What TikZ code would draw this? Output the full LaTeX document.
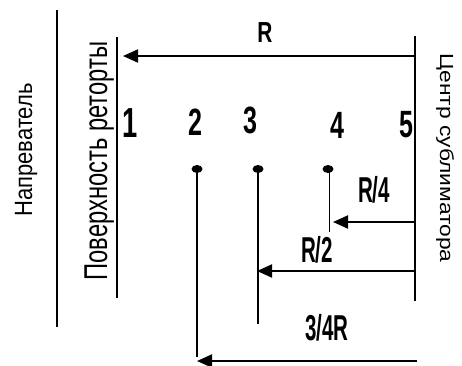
\documentclass[tikz,border=0pt]{standalone}
\usepackage{fontspec}
\setmainfont{Liberation Sans}
\usetikzlibrary{arrows.meta,shapes.geometric}
\begin{document}
\begin{tikzpicture}[x=1pt,y=-1pt,
  wall/.style={line width=1.3pt},
  arr/.style={line width=2pt,-{Triangle[length=15pt,width=13pt]}},
  stem/.style={line width=1.3pt},
  dotnode/.style={ellipse,fill=black,inner sep=0pt,minimum width=11pt,minimum height=8pt},
  num/.style={anchor=base,inner sep=0pt,font=\fontsize{38}{38}\selectfont\bfseries},
  lab/.style={anchor=base,inner sep=0pt,font=\fontsize{36}{36}\selectfont\bfseries},
  vtext/.style={anchor=base,inner sep=0pt}]
\useasboundingbox (0,0) rectangle (462,365);
% walls
\coordinate (h1) at (57,10); \coordinate (h2) at (57,327);
\coordinate (r1) at (117,37); \coordinate (r2) at (117,298);
\coordinate (c1) at (415,36); \coordinate (c2) at (415,301);
\draw[wall] (h1) -- (h2);
\draw[wall] (r1) -- (r2);
\draw[wall] (c1) -- (c2);
% vertical texts
\node[vtext,rotate=90] (heater) at (32,150) {\fontsize{25}{25}\selectfont\scalebox{0.88}[1]{Напреватель}};
\node[vtext,rotate=90] (surface) at (107,161) {\fontsize{33}{33}\selectfont\scalebox{0.72}[1]{Поверхность реторты}};
\node[vtext,rotate=-90] (center) at (440,158) {\fontsize{19}{19}\selectfont\scalebox{1.2}[1]{Центр сублиматора}};
% numbers
\node[num,font=\fontsize{42}{42}\selectfont\bfseries] (n1) at (130,137) {\scalebox{0.65}[1]{1}};
\node[num] (n2) at (195,135) {\scalebox{0.66}[1]{2}};
\node[num] (n3) at (250,133) {\scalebox{0.66}[1]{3}};
\node[num] (n4) at (337,138) {\scalebox{0.66}[1]{4}};
\node[num] (n5) at (406,137) {\scalebox{0.66}[1]{5}};
% dots and stems
\node[dotnode] (d2) at (197,169) {};
\node[dotnode] (d3) at (258,169) {};
\node[dotnode] (d4) at (328,169) {};
\coordinate (s2) at (196,357);
\coordinate (s3) at (257,324);
\coordinate (s4) at (330,232);
\draw[stem] (d2.center) -- (d2.center |- s2);
\draw[stem] (d3.center) -- (d3.center |- s3);
\draw[stem] ([xshift=1.5pt]d4.center) -- ([xshift=1.5pt]d4.center |- s4);
% arrows
\coordinate (aR1) at (415,56); \coordinate (aR2) at (123,56);
\draw[arr] (aR1) -- (aR2);
\coordinate (a41) at (415,222); \coordinate (a42) at (333,222);
\draw[arr] (a41) -- (a42);
\coordinate (a21) at (414,271); \coordinate (a22) at (257,271);
\draw[arr] (a21) -- (a22);
\coordinate (a31) at (417,361); \coordinate (a32) at (197,361);
\draw[arr] (a31) -- (a32);
% labels
\node[lab,font=\fontsize{29}{29}\selectfont\bfseries] (lR) at (265,42) {\scalebox{0.72}[1]{R}};
\node[lab] (l4) at (374,202) {\scalebox{0.57}[1]{R/4}};
\node[lab] (l2) at (317,262) {\scalebox{0.57}[1]{R/2}};
\node[lab] (l34) at (327,340) {\scalebox{0.57}[1]{3/4R}};
\end{tikzpicture}
\end{document}
